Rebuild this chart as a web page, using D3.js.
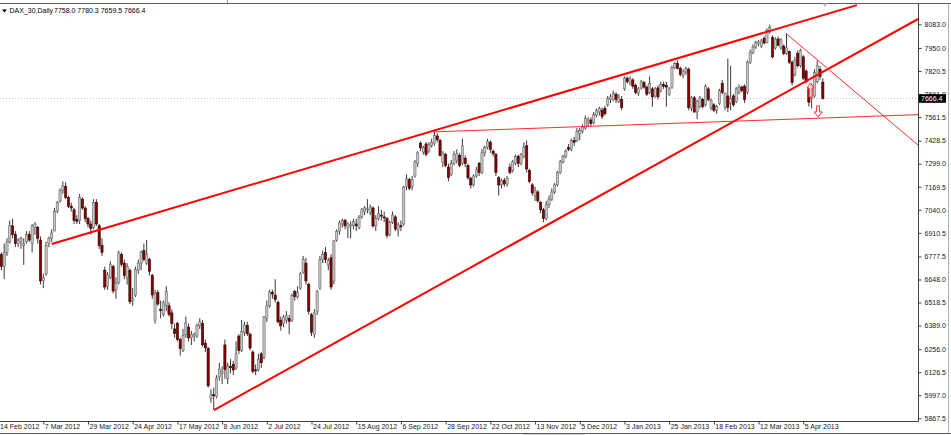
<!DOCTYPE html>
<html><head><meta charset="utf-8">
<script src="https://cdn.jsdelivr.net/npm/d3@7"></script>
<style>
html,body{margin:0;padding:0;background:#fff;}
svg{display:block;}
text{font-family:"Liberation Sans",Arial,sans-serif;}
</style></head><body>
<svg id="chart" width="951" height="435"></svg>
<script>
const symbolName = "DAX_30,Daily";
const tickBars = [0,16,32,48,64,80,96,112,128,144,160,176,192,208,224,240,256,272,288];
const tickLabels = ["14 Feb 2012","7 Mar 2012","29 Mar 2012","24 Apr 2012","17 May 2012","8 Jun 2012","2 Jul 2012","24 Jul 2012","15 Aug 2012","6 Sep 2012","28 Sep 2012","22 Oct 2012","13 Nov 2012","5 Dec 2012","3 Jan 2013","25 Jan 2013","18 Feb 2013","12 Mar 2013","5 Apr 2013"];
const priceTicks = [8083.0,7950.0,7820.5,7691.0,7561.5,7428.5,7299.0,7169.5,7040.0,6910.5,6777.5,6648.0,6518.5,6389.0,6256.0,6126.5,5997.0,5867.5];

const open = [
6760,6790,6720,6800,6860,6950,6900,6850,6860,6840,
6860,6900,6850,6940,6940,6870,6640,6680,6850,6880,
6920,7030,7090,7150,7170,7110,7060,7040,6985,6980,
7100,7050,6990,6960,6940,7080,6950,6840,6700,6610,
6660,6720,6590,6630,6790,6740,6660,6700,6530,6560,
6700,6740,6810,6740,6760,6670,6420,6575,6480,6450,
6500,6500,6460,6370,6400,6310,6250,6340,6380,6320,
6330,6330,6390,6400,6290,6260,5980,6000,5990,6100,
6120,6280,6090,6160,6170,6150,6330,6250,6350,6390,
6340,6240,6140,6140,6230,6210,6430,6500,6575,6560,
6520,6420,6400,6420,6430,6420,6580,6550,6600,6690,
6740,6620,6450,6340,6470,6600,6760,6800,6730,6770,
6640,6870,6920,6960,6980,6940,6950,6950,6960,6940,
7000,7030,7040,7025,7050,6950,6990,7010,7000,6990,
6900,6970,7000,6930,6950,6960,7170,7210,7170,7230,
7300,7415,7365,7410,7370,7400,7412,7455,7430,7305,
7350,7280,7240,7300,7320,7345,7300,7330,7290,7215,
7180,7230,7300,7250,7360,7390,7420,7370,7350,7220,
7180,7205,7185,7280,7260,7300,7340,7300,7340,7400,
7260,7180,7120,7140,7080,7040,6990,7070,7100,7140,
7180,7250,7310,7340,7390,7380,7430,7430,7470,7480,
7500,7530,7545,7530,7570,7590,7600,7610,7630,7660,
7660,7690,7650,7660,7720,7780,7755,7770,7740,7695,
7725,7755,7730,7700,7720,7680,7725,7710,7745,7740,
7690,7730,7840,7862,7835,7795,7815,7830,7610,7670,
7590,7620,7660,7630,7720,7615,7630,7600,7637,7750,
7615,7680,7640,7680,7650,7700,7730,7735,7700,7870,
7925,7955,7975,7960,8005,7980,8040,8010,7950,8000,
7950,7960,7920,7930,7870,7800,7920,7850,7900,7820,
7720,7665,7680,7760,7830,7758];
const high = [
6800,6800,6850,6880,6980,6990,6920,6880,6890,6880,
6920,6920,6960,6970,6950,6890,6680,6860,6890,6930,
7050,7090,7160,7200,7195,7120,7080,7050,7010,7130,
7110,7060,7000,6980,7100,7100,6960,6880,6720,6690,
6750,6730,6660,6810,6800,6760,6740,6710,6600,6720,
6760,6810,6850,6870,6770,6680,6590,6590,6530,6530,
6610,6520,6480,6400,6410,6320,6370,6440,6400,6360,
6350,6400,6430,6420,6310,6270,6030,6040,6110,6180,
6160,6310,6180,6200,6190,6300,6340,6420,6410,6410,
6350,6250,6170,6230,6240,6440,6530,6590,6590,6650,
6530,6440,6450,6470,6450,6570,6590,6610,6690,6780,
6770,6630,6460,6480,6590,6780,6810,6830,6770,6790,
6870,6930,6980,6990,6990,6970,6975,6990,6990,7010,
7050,7060,7100,7070,7060,7010,7060,7040,7030,7000,
6980,7030,7010,6970,6980,7175,7240,7220,7230,7320,
7370,7425,7400,7420,7420,7440,7490,7470,7440,7370,
7360,7300,7320,7370,7380,7360,7440,7345,7300,7225,
7240,7280,7310,7380,7400,7440,7430,7380,7360,7230,
7215,7220,7230,7300,7320,7350,7350,7360,7420,7430,
7270,7190,7170,7150,7090,7050,7090,7120,7160,7190,
7260,7320,7350,7380,7410,7440,7450,7500,7500,7520,
7570,7560,7560,7590,7610,7620,7615,7625,7680,7690,
7710,7700,7690,7680,7790,7790,7790,7780,7750,7730,
7770,7765,7740,7790,7730,7730,7740,7760,7760,7760,
7730,7850,7870,7880,7845,7830,7845,7840,7680,7680,
7660,7680,7670,7745,7730,7665,7640,7630,7720,7770,
7700,7890,7850,7690,7730,7745,7740,7745,7880,7940,
7970,7990,7995,8000,8015,8060,8081,8020,8010,8015,
8005,7970,8030,7935,7880,7900,7935,7945,7910,7830,
7730,7750,7830,7880,7850,7780.3];
const low = [
6700,6700,6650,6780,6850,6880,6830,6830,6820,6730,
6850,6860,6800,6900,6850,6620,6600,6670,6830,6860,
6920,7020,7080,7130,7100,7050,7030,6960,6960,6960,
7040,6970,6940,6900,6930,6950,6820,6780,6590,6590,
6650,6570,6540,6620,6720,6650,6620,6510,6500,6550,
6680,6700,6750,6730,6670,6540,6400,6500,6430,6440,
6470,6440,6370,6320,6300,6220,6240,6320,6300,6280,
6300,6320,6370,6270,6240,6040,5955,5914,5980,6080,
6060,6090,6060,6120,6110,6140,6230,6240,6330,6330,
6250,6120,6110,6130,6150,6200,6410,6490,6540,6520,
6400,6360,6380,6400,6340,6410,6530,6540,6590,6680,
6620,6450,6330,6320,6450,6590,6740,6740,6700,6590,
6620,6860,6900,6940,6930,6880,6880,6930,6920,6930,
6990,7010,7020,7010,6940,6920,6980,6980,6970,6880,
6890,6960,6920,6890,6920,6950,7150,7150,7150,7220,
7280,7370,7350,7340,7360,7390,7400,7420,7340,7280,
7280,7200,7230,7290,7300,7280,7290,7280,7210,7160,
7170,7220,7230,7240,7340,7380,7360,7340,7230,7120,
7160,7170,7170,7240,7250,7290,7280,7290,7330,7250,
7190,7120,7090,7080,7020,6970,6980,7050,7090,7130,
7170,7240,7300,7330,7370,7370,7400,7420,7430,7470,
7490,7510,7510,7520,7560,7570,7550,7570,7620,7640,
7650,7640,7640,7600,7710,7750,7740,7720,7690,7680,
7715,7720,7680,7690,7620,7670,7660,7700,7720,7620,
7680,7720,7830,7830,7790,7780,7800,7600,7595,7585,
7550,7610,7610,7620,7650,7600,7590,7580,7630,7690,
7600,7590,7600,7620,7640,7690,7700,7640,7690,7860,
7915,7945,7960,7950,7970,7975,8030,7890,7940,7960,
7940,7910,7910,7860,7740,7790,7840,7840,7770,7750,
7620,7610,7670,7750,7770,7659.5];
const close = [
6780,6720,6800,6860,6950,6900,6850,6870,6880,6850,
6900,6870,6950,6960,6880,6640,6660,6840,6880,6910,
7030,7080,7150,7175,7110,7060,7050,6980,6975,7110,
7050,6990,6960,6935,7080,6960,6840,6800,6606,6674,
6734,6583,6625,6798,6732,6671,6720,6523,6540,6704,
6740,6801,6761,6790,6694,6561,6569,6510,6475,6520,
6580,6452,6401,6345,6310,6260,6332,6404,6320,6339,
6340,6390,6410,6281,6264,6050,6000,5995,6094,6144,
6131,6141,6161,6152,6139,6229,6248,6357,6392,6343,
6263,6132,6136,6200,6180,6440,6500,6578,6566,6535,
6410,6388,6437,6444,6413,6557,6552,6577,6680,6760,
6640,6470,6350,6460,6580,6760,6790,6760,6755,6606,
6865,6918,6967,6980,6950,6960,6955,6974,6950,6996,
7040,7050,7045,7055,6949,6990,7020,7005,6996,6895,
6970,7010,6932,6956,6945,7167,7214,7161,7211,7310,
7360,7388,7390,7352,7405,7420,7457,7435,7345,7355,
7290,7221,7300,7350,7355,7290,7400,7300,7220,7180,
7230,7265,7250,7360,7390,7425,7380,7355,7250,7180,
7205,7185,7215,7250,7310,7340,7300,7350,7390,7270,
7200,7135,7150,7090,7040,6990,7070,7100,7140,7180,
7250,7310,7340,7370,7380,7430,7420,7480,7485,7505,
7553,7545,7525,7575,7600,7610,7565,7580,7665,7675,
7695,7660,7670,7615,7780,7760,7776,7735,7700,7720,
7760,7730,7690,7750,7675,7720,7675,7745,7735,7730,
7720,7840,7862,7835,7800,7820,7834,7615,7670,7590,
7650,7670,7620,7735,7660,7654,7600,7620,7710,7700,
7693,7615,7665,7630,7720,7730,7710,7660,7870,7925,
7955,7980,7985,7990,7978,8050,8065,7900,8000,7965,
7995,7918,7950,7870,7755,7880,7850,7935,7780,7760,
7645,7738,7811,7850,7790,7666.4];

// trend lines: [barIndexFrom, priceFrom, barIndexTo, priceTo]
const channelLines = [[19.0,6848,307.2,8191],[77.1,5914,329.1,8113]];
const thinLines = [[155.5,7478,329.1,7575],[281.8,8032,329.1,7404]];
// arrow objects: [barIndex, topPrice, bottomPrice]
const upArrows = [[290.6,7753,7674]];
const downArrows = [[293.3,7624,7562]];

const svg = d3.select("#chart");
const plotLeft = 0, plotRight = 918, plotTop = 4, plotBottom = 421;
const n = close.length;

const x = d3.scaleLinear().domain([0, 295]).range([-1.4, -1.4 + 2.794*295]);
const y = d3.scaleLinear().domain([5867.5, 8083]).range([418.3, 24.3]);

svg.append("rect").attr("width",951).attr("height",435).attr("fill","#fff");

svg.append("defs").append("clipPath").attr("id","plotclip")
  .append("rect").attr("x",plotLeft).attr("y",plotTop).attr("width",plotRight-plotLeft).attr("height",plotBottom-plotTop);

const plot = svg.append("g").attr("clip-path","url(#plotclip)");

// bid line
const lastPrice = close[n-1];
plot.append("line").attr("x1",0).attr("x2",plotRight).attr("y1",Math.round(y(lastPrice))+0.5).attr("y2",Math.round(y(lastPrice))+0.5)
  .attr("stroke","#c4c4c4").attr("stroke-width",1).attr("stroke-dasharray","1,2");

// candles
const idx = d3.range(n);
const bw = 2.2;
plot.append("g").selectAll("line").data(idx).join("line")
  .attr("x1",i=>x(i)).attr("x2",i=>x(i))
  .attr("y1",i=>y(high[i])).attr("y2",i=>y(low[i]))
  .attr("stroke","#3a3a3a").attr("stroke-width",1);
plot.append("g").selectAll("rect").data(idx).join("rect")
  .attr("x",i=>x(i)-bw/2).attr("width",bw)
  .attr("y",i=>y(Math.max(open[i],close[i])))
  .attr("height",i=>Math.max(1,Math.abs(y(open[i])-y(close[i]))))
  .attr("fill",i=>close[i]>=open[i]?"#c6c6c6":"#8b0000")
  .attr("stroke",i=>close[i]>=open[i]?"#6a6a6a":"#2a0000")
  .attr("stroke-width",0.6);

// trend lines
plot.append("g").selectAll("line").data(channelLines).join("line")
  .attr("x1",d=>x(d[0])).attr("y1",d=>y(d[1])).attr("x2",d=>x(d[2])).attr("y2",d=>y(d[3]))
  .attr("stroke","#ff0000").attr("stroke-width",2);
plot.append("g").selectAll("line").data(thinLines).join("line")
  .attr("x1",d=>x(d[0])).attr("y1",d=>y(d[1])).attr("x2",d=>x(d[2])).attr("y2",d=>y(d[3]))
  .attr("stroke","#ff2a2a").attr("stroke-width",1);

// arrows
plot.append("g").selectAll("path").data(upArrows).join("path")
  .attr("d",d=>{const cx=x(d[0]),t=y(d[1]),b=y(d[2]),hw=3.5,hh=5,sw=1.5;
    return `M${cx},${t}L${cx+hw},${t+hh}L${cx+sw},${t+hh}L${cx+sw},${b}L${cx-sw},${b}L${cx-sw},${t+hh}L${cx-hw},${t+hh}Z`;})
  .attr("fill","#fff").attr("fill-opacity",0.6).attr("stroke","#ff3030").attr("stroke-width",1);
plot.append("g").selectAll("path").data(downArrows).join("path")
  .attr("d",d=>{const cx=x(d[0]),t=y(d[1]),b=y(d[2]),hw=4,hh=5,sw=1.5;
    return `M${cx},${b}L${cx+hw},${b-hh}L${cx+sw},${b-hh}L${cx+sw},${t}L${cx-sw},${t}L${cx-sw},${b-hh}L${cx-hw},${b-hh}Z`;})
  .attr("fill","#fff").attr("stroke","#ff3030").attr("stroke-width",1);

// frame
svg.append("line").attr("x1",0).attr("x2",951).attr("y1",3.5).attr("y2",3.5).attr("stroke","#5a5a5a");
svg.append("line").attr("x1",227.5).attr("x2",227.5).attr("y1",0).attr("y2",3).attr("stroke","#9a9a9a");
svg.append("line").attr("x1",plotRight+0.5).attr("x2",plotRight+0.5).attr("y1",3.5).attr("y2",plotBottom+0.5).attr("stroke","#404040");
svg.append("line").attr("x1",0).attr("x2",plotRight+0.5).attr("y1",plotBottom+0.5).attr("y2",plotBottom+0.5).attr("stroke","#404040");
svg.append("line").attr("x1",948.5).attr("x2",948.5).attr("y1",3.5).attr("y2",433).attr("stroke","#b0b0b0");
svg.append("line").attr("x1",0).attr("x2",951).attr("y1",433.5).attr("y2",433.5).attr("stroke","#5a5a5a");
svg.append("rect").attr("x",523).attr("y",434).attr("width",62).attr("height",1).attr("fill","#d0d0d0");

// shift marker
svg.append("path").attr("d","M822.5,3.5L827.5,3.5L825,7Z").attr("fill","#b8b8b8");

// y axis
const yAxis = d3.axisRight(y).tickValues(priceTicks).tickSize(3).tickPadding(3).tickFormat(d=>d.toFixed(1));
const gy = svg.append("g").attr("transform",`translate(${plotRight+0.5},0)`).call(yAxis);
gy.select(".domain").remove();
gy.selectAll(".tick line").attr("stroke","#404040");
gy.selectAll("text").attr("font-size",7).attr("fill","#202020").attr("font-family","'Liberation Sans',Arial,sans-serif");

// price label box (covers the lower part of the neighbouring tick label, as in MT4)
const ly = y(lastPrice);
svg.append("rect").attr("x",919).attr("y",ly-4.2).attr("width",27).attr("height",8.6).attr("fill","#000");
svg.append("text").attr("x",921).attr("y",ly).attr("dy","0.34em").attr("font-size",7).attr("fill","#fff")
  .text(lastPrice.toFixed(1));

// x axis
const xAxis = d3.axisBottom(x).tickValues(tickBars).tickSize(3).tickFormat((d,i)=>tickLabels[i]);
const gx = svg.append("g").attr("transform",`translate(0,${plotBottom+0.5})`).call(xAxis);
gx.select(".domain").remove();
gx.selectAll(".tick line").attr("stroke","#404040");
gx.selectAll("text").attr("text-anchor","start").attr("x",1).attr("y",3).attr("dy","0.71em")
  .attr("font-size",7).attr("fill","#202020").attr("font-family","'Liberation Sans',Arial,sans-serif");

// header
svg.append("path").attr("d","M2,9.5L7,9.5L4.5,12.5Z").attr("fill","#000");
svg.append("text").attr("x",9.5).attr("y",13).attr("font-size",7).attr("fill","#000").text(symbolName);
svg.append("text").attr("x",54).attr("y",13).attr("font-size",7).attr("fill","#000")
  .text([open[n-1],high[n-1],low[n-1],close[n-1]].map(v=>v.toFixed(1)).join(" "));
</script>
</body></html>
